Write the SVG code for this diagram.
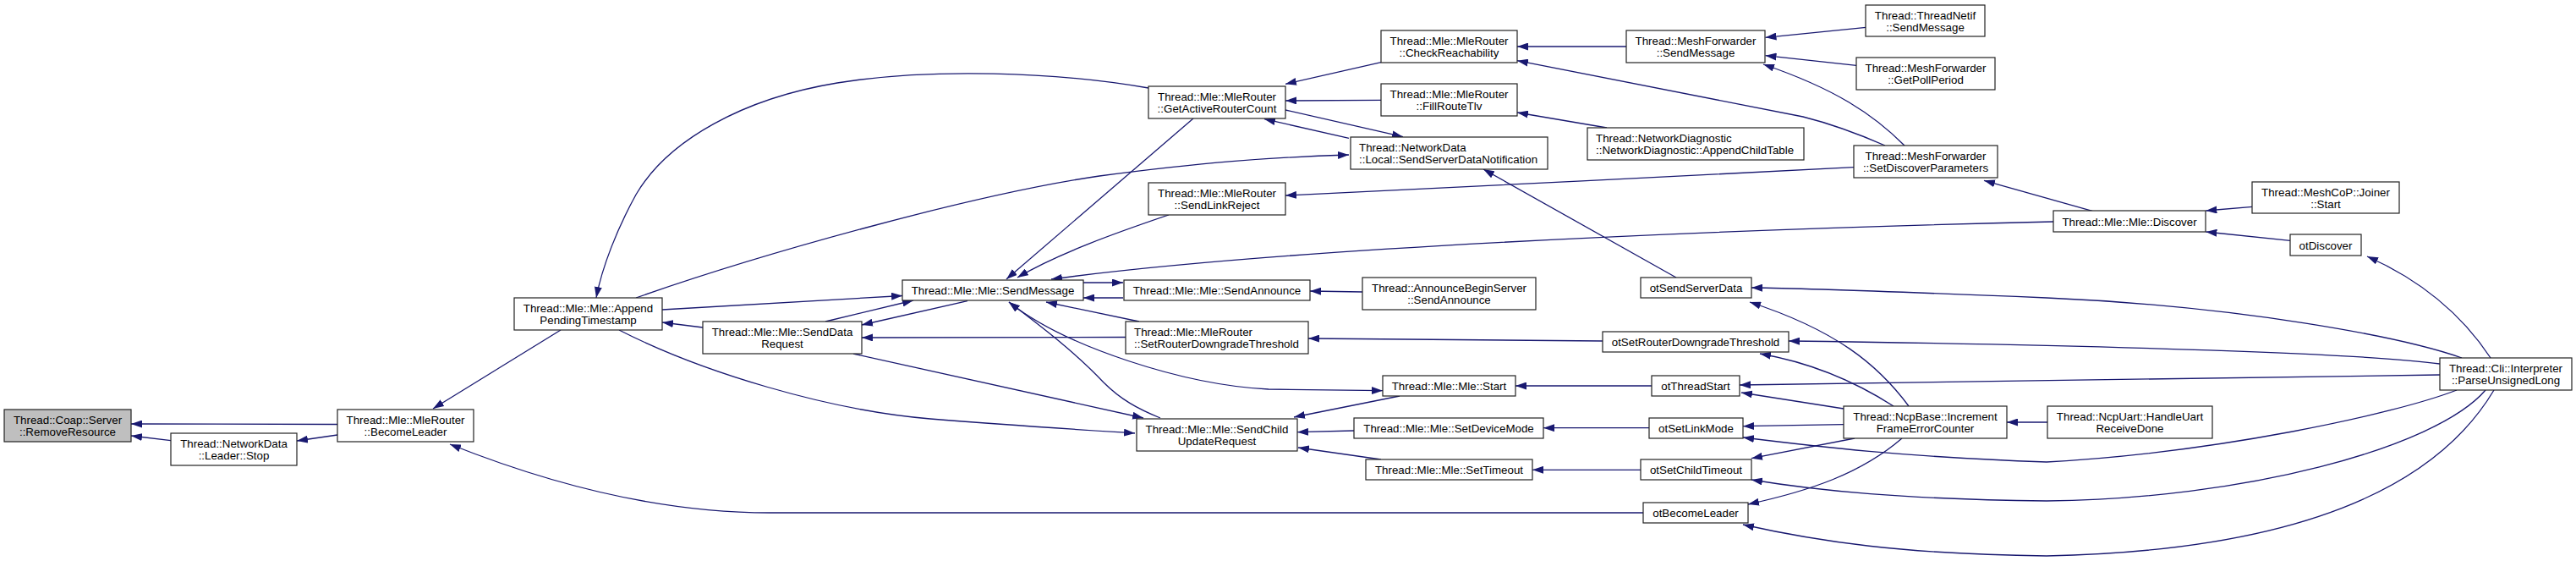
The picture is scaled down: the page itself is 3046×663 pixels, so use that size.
<svg xmlns="http://www.w3.org/2000/svg" width="3046" height="663" viewBox="0 0 3046 663">
<defs>
<marker id="a" viewBox="0 0 13 9" markerWidth="13" markerHeight="9" markerUnits="userSpaceOnUse" refX="13" refY="4.5" orient="auto"><path d="M0,0 L13,4.5 L0,9 Z" fill="#191970"/></marker>
<marker id="b" viewBox="0 0 13 9" markerWidth="13" markerHeight="9" markerUnits="userSpaceOnUse" refX="13" refY="4.5" orient="auto-start-reverse"><path d="M0,0 L13,4.5 L0,9 Z" fill="#191970"/></marker>
<style>
.n rect{fill:#fff;stroke:#222;stroke-width:1.2}
.root rect{fill:#bfbfbf}
text{font-family:"Liberation Sans",Arial,Helvetica,sans-serif;font-size:13.33px;fill:#000}
.c{text-anchor:middle}
.e path{fill:none;stroke:#191970;stroke-width:1.3;marker-end:url(#a)}
.e path.bi{marker-start:url(#b);marker-end:url(#b)}
</style>
</defs>
<rect width="3046" height="663" fill="#fff"/>
<g id="edges" class="e">
<path d="M399,501.5 L155,501"/>
<path d="M202,520.7 L155,515"/>
<path d="M399,514 L351,521"/>
<path d="M663,390 L512,483"/>
<path d="M1943,606 L910,606 C780,606 650,572 532,525"/>
<path d="M1358,104 C1250,85 1100,80 990,98 C880,116 790,165 752,230 C730,270 712,315 705,352"/>
<path d="M752,352 C900,300 1150,230 1300,208 C1420,192 1500,186 1595,183"/>
<path d="M783,366 L1067,349.5"/>
<path d="M831,387 L783,381"/>
<path d="M976,380 L1080,355"/>
<path d="M1144,355.7 L1019,384"/>
<path d="M1331,398.5 L1019,399"/>
<path d="M1009,418 L1352,494"/>
<path d="M732,390 C830,440 980,485 1100,495 C1200,503 1280,508 1342,512"/>
<path d="M1411,140 L1190,330"/>
<path d="M1382,254 C1320,275 1250,300 1203,328"/>
<path d="M2428,262 C2000,272 1500,295 1243,330"/>
<path d="M1281,334 L1328,334"/>
<path d="M1328,352 L1281,352"/>
<path d="M1611,345 L1549,344"/>
<path d="M1347,380 L1237,357"/>
<path d="M1895,403 L1547,400"/>
<path class="bi" d="M1193,357 C1260,410 1400,455 1500,460 L1635,461.7"/>
<path d="M1372,494 C1345,483 1325,472 1305,452 C1270,415 1230,385 1193,357"/>
<path d="M1655,468 L1530,493"/>
<path d="M1601,509 L1534,510.7"/>
<path d="M1633,543 L1535,529"/>
<path d="M1953,456 L1792,456"/>
<path d="M1950,505.7 L1825,505.7"/>
<path d="M1940,555.3 L1812,555.3"/>
<path d="M1633,73.7 L1520,99.3"/>
<path d="M1633,118.3 L1520,119"/>
<path d="M1520,130 L1659,161.7"/>
<path d="M1595,163.3 L1495,140.7"/>
<path d="M1982,328 L1754,200"/>
<path d="M2192,197.7 C2000,208 1700,222 1520,231"/>
<path d="M1923,55 L1794,55"/>
<path d="M2229,172 C2190,155 2160,145 2132,138 L1794,71.7"/>
<path d="M2206.5,32.3 L2087.5,44.3"/>
<path d="M2195,77.3 L2087.5,65.7"/>
<path d="M2252,172 C2215,135 2170,105 2085,76"/>
<path d="M1900,151 L1794,133"/>
<path d="M2474,249.3 L2346,213.3"/>
<path d="M2663.5,244.3 L2608.4,249"/>
<path d="M2708,284.3 L2608.4,274"/>
<path d="M2945,423 C2910,370 2860,330 2799,303"/>
<path d="M2911,423 C2840,398 2650,362 2420,352 C2250,345 2150,341 2071,340"/>
<path d="M2257,480 C2220,430 2170,390 2069,357"/>
<path d="M2239,480 C2200,455 2150,430 2081,418"/>
<path d="M2885,430 C2800,418 2500,408 2115,403"/>
<path d="M2885,443 C2700,446 2400,450 2057,455"/>
<path d="M2180,483 L2059,464"/>
<path d="M2180,501.7 L2061,503.7"/>
<path d="M2905,461 C2830,490 2620,535 2420,546 C2250,540 2150,528 2061,517"/>
<path d="M2193,518 L2071,541.7"/>
<path d="M2939,461 C2880,530 2650,590 2420,592 C2250,590 2150,580 2071,567"/>
<path d="M2249,518 C2200,560 2140,580 2067,596"/>
<path d="M2949,461 C2890,560 2750,650 2420,657 C2250,655 2150,640 2061,620"/>
<path d="M2421,499 L2373,499"/>
</g>
<g id="n0" class="n root"><rect x="5" y="484" width="150" height="38"/><text class="c" x="80" y="501">Thread::Coap::Server</text><text class="c" x="80" y="514.5">::RemoveResource</text></g>
<g id="n1" class="n"><rect x="202" y="512" width="149" height="38"/><text class="c" x="276.5" y="529">Thread::NetworkData</text><text class="c" x="276.5" y="542.5">::Leader::Stop</text></g>
<g id="n2" class="n"><rect x="399" y="484" width="161" height="38"/><text class="c" x="479.5" y="501">Thread::Mle::MleRouter</text><text class="c" x="479.5" y="514.5">::BecomeLeader</text></g>
<g id="n3" class="n"><rect x="608" y="352" width="175" height="38"/><text class="c" x="695.5" y="369">Thread::Mle::Mle::Append</text><text class="c" x="695.5" y="382.5">PendingTimestamp</text></g>
<g id="n4" class="n"><rect x="831" y="380" width="188" height="38"/><text class="c" x="925" y="397">Thread::Mle::Mle::SendData</text><text class="c" x="925" y="410.5">Request</text></g>
<g id="n5" class="n"><rect x="1067" y="331" width="214" height="24"/><text class="c" x="1174" y="348">Thread::Mle::Mle::SendMessage</text></g>
<g id="n6" class="n"><rect x="1358" y="102" width="162" height="38"/><text class="c" x="1439" y="119">Thread::Mle::MleRouter</text><text class="c" x="1439" y="132.5">::GetActiveRouterCount</text></g>
<g id="n7" class="n"><rect x="1358" y="216" width="162" height="38"/><text class="c" x="1439" y="233">Thread::Mle::MleRouter</text><text class="c" x="1439" y="246.5">::SendLinkReject</text></g>
<g id="n8" class="n"><rect x="1329" y="331" width="220" height="24"/><text class="c" x="1439" y="348">Thread::Mle::Mle::SendAnnounce</text></g>
<g id="n9" class="n"><rect x="1331" y="380" width="216" height="38"/><text x="1341" y="397">Thread::Mle::MleRouter</text><text x="1341" y="410.5">::SetRouterDowngradeThreshold</text></g>
<g id="n10" class="n"><rect x="1344" y="495" width="190" height="38"/><text class="c" x="1439" y="512">Thread::Mle::Mle::SendChild</text><text class="c" x="1439" y="525.5">UpdateRequest</text></g>
<g id="n11" class="n"><rect x="1633" y="36" width="161" height="38"/><text class="c" x="1713.5" y="53">Thread::Mle::MleRouter</text><text class="c" x="1713.5" y="66.5">::CheckReachability</text></g>
<g id="n12" class="n"><rect x="1633" y="99" width="161" height="38"/><text class="c" x="1713.5" y="116">Thread::Mle::MleRouter</text><text class="c" x="1713.5" y="129.5">::FillRouteTlv</text></g>
<g id="n13" class="n"><rect x="1597" y="162" width="233" height="38"/><text x="1607" y="179">Thread::NetworkData</text><text x="1607" y="192.5">::Local::SendServerDataNotification</text></g>
<g id="n14" class="n"><rect x="1611" y="328" width="205" height="38"/><text class="c" x="1713.5" y="345">Thread::AnnounceBeginServer</text><text class="c" x="1713.5" y="358.5">::SendAnnounce</text></g>
<g id="n15" class="n"><rect x="1635" y="444" width="157" height="24"/><text class="c" x="1713.5" y="461">Thread::Mle::Mle::Start</text></g>
<g id="n16" class="n"><rect x="1601" y="494" width="224" height="24"/><text class="c" x="1713" y="511">Thread::Mle::Mle::SetDeviceMode</text></g>
<g id="n17" class="n"><rect x="1615" y="543" width="197" height="24"/><text class="c" x="1713.5" y="560">Thread::Mle::Mle::SetTimeout</text></g>
<g id="n18" class="n"><rect x="1923" y="36" width="164" height="38"/><text class="c" x="2005" y="53">Thread::MeshForwarder</text><text class="c" x="2005" y="66.5">::SendMessage</text></g>
<g id="n19" class="n"><rect x="1877" y="151" width="256" height="38"/><text x="1887" y="168">Thread::NetworkDiagnostic</text><text x="1887" y="181.5">::NetworkDiagnostic::AppendChildTable</text></g>
<g id="n20" class="n"><rect x="1940" y="328" width="131" height="24"/><text class="c" x="2005.5" y="345">otSendServerData</text></g>
<g id="n21" class="n"><rect x="1895" y="392" width="220" height="24"/><text class="c" x="2005" y="409">otSetRouterDowngradeThreshold</text></g>
<g id="n22" class="n"><rect x="1953" y="444" width="104" height="24"/><text class="c" x="2005" y="461">otThreadStart</text></g>
<g id="n23" class="n"><rect x="1950" y="494" width="111" height="24"/><text class="c" x="2005.5" y="511">otSetLinkMode</text></g>
<g id="n24" class="n"><rect x="1940" y="543" width="131" height="24"/><text class="c" x="2005.5" y="560">otSetChildTimeout</text></g>
<g id="n25" class="n"><rect x="1943" y="594" width="124" height="24"/><text class="c" x="2005" y="611">otBecomeLeader</text></g>
<g id="n26" class="n"><rect x="2206" y="6" width="141" height="37"/><text class="c" x="2276.5" y="23">Thread::ThreadNetif</text><text class="c" x="2276.5" y="36.5">::SendMessage</text></g>
<g id="n27" class="n"><rect x="2195" y="68" width="164" height="38"/><text class="c" x="2277" y="85">Thread::MeshForwarder</text><text class="c" x="2277" y="98.5">::GetPollPeriod</text></g>
<g id="n28" class="n"><rect x="2192" y="172" width="170" height="38"/><text class="c" x="2277" y="189">Thread::MeshForwarder</text><text class="c" x="2277" y="202.5">::SetDiscoverParameters</text></g>
<g id="n29" class="n"><rect x="2180" y="480" width="193" height="38"/><text class="c" x="2276.5" y="497">Thread::NcpBase::Increment</text><text class="c" x="2276.5" y="510.5">FrameErrorCounter</text></g>
<g id="n30" class="n"><rect x="2428" y="249" width="180" height="25"/><text class="c" x="2518" y="266.5">Thread::Mle::Mle::Discover</text></g>
<g id="n31" class="n"><rect x="2421" y="480" width="195" height="38"/><text class="c" x="2518.5" y="497">Thread::NcpUart::HandleUart</text><text class="c" x="2518.5" y="510.5">ReceiveDone</text></g>
<g id="n32" class="n"><rect x="2663" y="215" width="174" height="37"/><text class="c" x="2750" y="232">Thread::MeshCoP::Joiner</text><text class="c" x="2750" y="245.5">::Start</text></g>
<g id="n33" class="n"><rect x="2708" y="277" width="84" height="25"/><text class="c" x="2750" y="294.5">otDiscover</text></g>
<g id="n34" class="n"><rect x="2885" y="423" width="156" height="38"/><text class="c" x="2963" y="440">Thread::Cli::Interpreter</text><text class="c" x="2963" y="453.5">::ParseUnsignedLong</text></g>
</svg>
